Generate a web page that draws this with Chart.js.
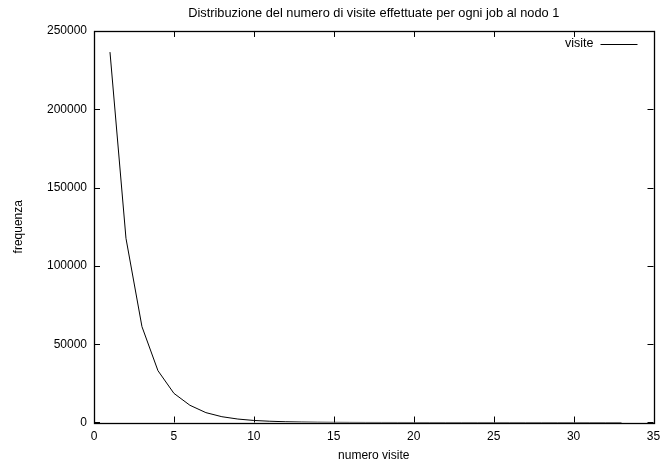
<!DOCTYPE html>
<html>
<head>
<meta charset="utf-8">
<script src="https://cdn.jsdelivr.net/npm/chart.js@4/dist/chart.umd.min.js"></script>
<style>
  html, body { margin: 0; padding: 0; background: #fff; }
  #wrap { width: 662px; height: 463px; position: relative; }
</style>
</head>
<body>
<div id="wrap"><canvas id="c"></canvas></div>
<script>
// Number of visits per job at node 1 and how often each occurred
const visite = [1, 2, 3, 4, 5, 6, 7, 8, 9, 10, 11, 12, 13, 14, 15, 16, 17, 18, 19, 20,
                21, 22, 23, 24, 25, 26, 27, 28, 29, 30, 31, 32, 33];
const frequenza = [236500, 117600, 61200, 33100, 18600, 11000, 6300, 3700, 2200, 1300,
                   800, 480, 290, 175, 105, 64, 39, 24, 15, 9,
                   6, 4, 3, 2, 1, 1, 1, 1, 0, 1, 0, 0, 1];
const xTicks = [0, 5, 10, 15, 20, 25, 30, 35];
const yTicks = [0, 50000, 100000, 150000, 200000, 250000];

const titolo = 'Distribuzione del numero di visite effettuate per ogni job al nodo 1';
const FONT = 'Liberation Sans, Arial, Helvetica, sans-serif';

// Frame, inward tick marks on all four sides, and the key in the upper right
const framePlugin = {
  id: 'frame',
  afterDatasetsDraw(chart) {
    const { ctx, chartArea: a, scales: { x, y } } = chart;
    const L = 6;
    ctx.save();
    ctx.strokeStyle = '#000';
    ctx.lineWidth = 1;
    ctx.beginPath();
    x.ticks.forEach(t => {
      const px = Math.round(x.getPixelForValue(t.value)) + 0.5;
      ctx.moveTo(px, a.bottom); ctx.lineTo(px, a.bottom - L);
      ctx.moveTo(px, a.top); ctx.lineTo(px, a.top + L);
    });
    y.ticks.forEach(t => {
      const py = Math.round(y.getPixelForValue(t.value)) + 0.5;
      ctx.moveTo(a.left, py); ctx.lineTo(a.left + L, py);
      ctx.moveTo(a.right, py); ctx.lineTo(a.right - L, py);
    });
    ctx.stroke();
    ctx.lineWidth = 1.3;
    ctx.strokeRect(Math.round(a.left) + 0.5, Math.round(a.top) + 0.5,
                   Math.round(a.right - a.left), Math.round(a.bottom - a.top));

    // key: label text followed by a line sample
    const ds = chart.data.datasets[0];
    const ky = a.top + 13;
    const lineEnd = a.right - 16;
    const lineStart = lineEnd - 37;
    ctx.font = '12.5px ' + FONT;
    ctx.fillStyle = '#000';
    ctx.textAlign = 'right';
    ctx.textBaseline = 'middle';
    ctx.fillText(ds.label, lineStart - 7, ky);
    ctx.lineWidth = 1;
    ctx.strokeStyle = ds.borderColor;
    ctx.beginPath();
    ctx.moveTo(lineStart, Math.round(ky) + 0.5);
    ctx.lineTo(lineEnd, Math.round(ky) + 0.5);
    ctx.stroke();
    ctx.restore();
  }
};

Chart.defaults.font.family = FONT;
Chart.defaults.font.size = 12;
Chart.defaults.color = '#000';

new Chart(document.getElementById('c'), {
  type: 'line',
  data: {
    datasets: [{
      label: 'visite',
      data: visite.map((v, i) => ({ x: v, y: frequenza[i] })),
      borderColor: '#000',
      borderWidth: 1,
      pointRadius: 0,
      tension: 0,
      fill: false
    }]
  },
  options: {
    responsive: true,
    maintainAspectRatio: false,
    animation: false,
    devicePixelRatio: 1,
    layout: { padding: { left: 0, right: 8.5, top: 0, bottom: 0 } },
    plugins: {
      legend: { display: false },
      tooltip: { enabled: false },
      title: {
        display: true,
        text: titolo,
        fullSize: false,
        font: { size: 12.8, weight: 'normal', lineHeight: 1.2 },
        color: '#000',
        padding: { top: 5.5, bottom: 10.1 }
      }
    },
    scales: {
      x: {
        type: 'linear',
        min: 0,
        max: 35,
        afterBuildTicks(s) { s.ticks = xTicks.map(v => ({ value: v })); },
        afterFit(s) { s.height = 40.5; s.paddingLeft = 0; s.paddingRight = 0; },
        grid: { display: false, drawTicks: false },
        border: { display: false },
        ticks: { padding: 7, font: { size: 12 }, color: '#000' },
        title: { display: true, text: 'numero visite', font: { size: 12 }, color: '#000',
                 padding: { top: 0, bottom: 0 } }
      },
      y: {
        type: 'linear',
        min: 0,
        max: 250000,
        afterBuildTicks(s) { s.ticks = yTicks.map(v => ({ value: v })); },
        afterFit(s) { s.width = 94; },
        grid: { display: false, drawTicks: false },
        border: { display: false },
        ticks: { padding: 7, font: { size: 12 }, color: '#000', callback: v => String(v) },
        title: { display: true, text: 'frequenza', font: { size: 12 }, color: '#000',
                 padding: { top: 11.4, bottom: 0 } }
      }
    }
  },
  plugins: [framePlugin]
});
</script>
</body>
</html>
